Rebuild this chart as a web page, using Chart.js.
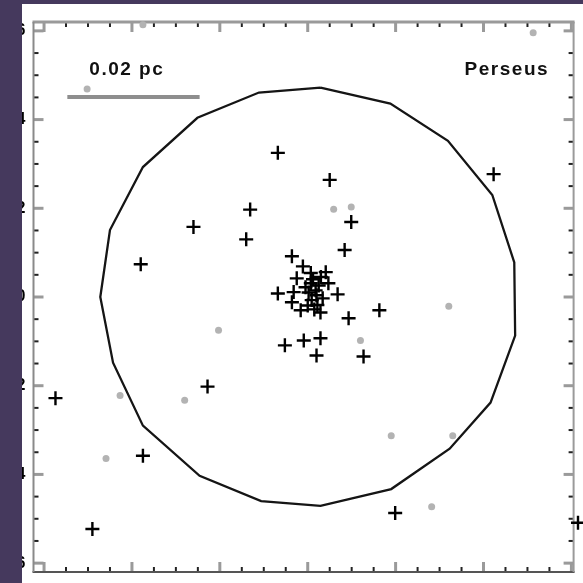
<!DOCTYPE html>
<html lang="en">
<head>
    <meta charset="UTF-8">
    <title>Perseus</title>
    <script src="https://cdn.jsdelivr.net/npm/chart.js"></script>
    <style>
        html, body { margin: 0; padding: 0; background: #ffffff; }
        body { width: 583px; height: 583px; position: relative; overflow: hidden; }
        #wrap { position: absolute; left: 0; top: 0; width: 583px; height: 583px; }
        #chart { display: block; }
        .band { position: absolute; background: #45395d; }
        #bandLeft { left: 0; top: 0; width: 22px; height: 583px; }
        #bandTop { left: 0; top: 0; width: 583px; height: 4px; }
    </style>
</head>
<body>
    <div id="wrap"><canvas id="chart" width="583" height="583"></canvas></div>
    <div class="band" id="bandLeft"></div>
    <div class="band" id="bandTop"></div>

    <script>
        // axis ranges and ticks
        const xRange = [-6.24, 6.05];
        const yRange = [-6.2, 6.2];
        const majorTicks = [-6, -4, -2, 0, 2, 4, 6];

        // sources (black crosses)
        const crossX = [-0.68, 0.50, -1.31, 0.99, -2.60, -1.40, 0.84, -3.80, -0.36, 4.23,
                        -2.28, -5.74, -3.75, -4.90, 1.99, 6.15, 1.63, 0.93, 1.27, 0.68,
                        -0.52, -0.09, 0.29, 0.20, -0.68, -0.11, 0.41, -0.25, 0.07, 0.47,
                        -0.32, -0.36, -0.16, 0.29, 0.18, 0.09, 0.25, 0.07, 0.20, 0.00,
                        0.34, -0.05, 0.12, 0.22, 0.02, 0.15, 0.30];
        const crossY = [3.25, 2.64, 1.97, 1.69, 1.58, 1.30, 1.06, 0.74, 0.92, 2.77,
                        -2.02, -2.28, -3.58, -5.23, -4.87, -5.09, -0.30, -0.48, -1.34, 0.06,
                        -1.09, -0.98, -0.93, -1.32, 0.08, 0.69, 0.56, 0.42, 0.54, 0.31,
                        0.11, -0.12, -0.30, -0.35, 0.15, -0.07, 0.26, 0.31, 0.04, -0.19,
                        -0.03, 0.22, 0.40, -0.18, 0.10, -0.28, 0.45];

        // faint grey sources
        const dotX = [-3.75, 5.13, -5.02, 0.59, 0.99, -2.03, 3.21, 1.20, -4.27, -2.80, -4.59, 1.90, 3.30, 2.82];
        const dotY = [6.14, 5.96, 4.69, 1.98, 2.03, -0.75, -0.21, -0.98, -2.22, -2.33, -3.64, -3.13, -3.13, -4.73];

        // outline polygon (closed)
        const ringX = [0.29, 1.88, 3.19, 4.20, 4.70, 4.72, 4.16, 3.23, 1.90, 0.29,
                       -1.06, -2.46, -3.75, -4.43, -4.72, -4.50, -3.75, -2.51, -1.11, 0.29];
        const ringY = [4.72, 4.36, 3.52, 2.30, 0.78, -0.87, -2.38, -3.42, -4.33, -4.71,
                       -4.60, -4.03, -2.90, -1.48, 0.00, 1.51, 2.93, 4.04, 4.61, 4.72];

        // scale bar
        const barX = [-5.47, -2.46];
        const barY = [4.51, 4.51];

        // text labels
        const notes = [
            { text: '0.02 pc', x: -4.97, y: 5.12 },
            { text: 'Perseus', x: 3.57, y: 5.12 }
        ];

        const pts = (xs, ys) => xs.map((x, i) => ({ x: x, y: ys[i] }));

        const frame = {
            id: 'frame',
            beforeDatasetsDraw(chart) {
                const { ctx, chartArea: a, scales } = chart;
                const sx = scales.x, sy = scales.y;
                ctx.save();
                ctx.lineCap = 'butt';
                const line = (x1, y1, x2, y2, color, w) => {
                    ctx.strokeStyle = color;
                    ctx.lineWidth = w;
                    ctx.beginPath();
                    ctx.moveTo(x1, y1);
                    ctx.lineTo(x2, y2);
                    ctx.stroke();
                };
                // minor ticks
                for (let v = -6; v <= 6.01; v += 0.5) {
                    if (majorTicks.includes(v)) continue;
                    const px = sx.getPixelForValue(v);
                    const py = sy.getPixelForValue(v);
                    line(px, a.top, px, a.top + 5, '#222', 2);
                    line(px, a.bottom, px, a.bottom - 5, '#222', 2);
                    line(a.left, py, a.left + 5, py, '#222', 2);
                    line(a.right, py, a.right - 5, py, '#222', 2);
                }
                // major ticks
                majorTicks.forEach(v => {
                    const px = sx.getPixelForValue(v);
                    const py = sy.getPixelForValue(v);
                    line(px, a.top, px, a.top + 10, '#9a9a9a', 3);
                    line(px, a.bottom, px, a.bottom - 10, '#9a9a9a', 3);
                    line(a.left, py, a.left + 10, py, '#9a9a9a', 3);
                    line(a.right, py, a.right - 10, py, '#9a9a9a', 3);
                });
                // frame
                line(a.left - 1, a.top, a.right + 1, a.top, '#9a9a9a', 3);
                line(a.left - 1, a.bottom, a.right + 1, a.bottom, '#555', 2);
                line(a.left, a.top, a.left, a.bottom, '#8a8a8a', 2);
                line(a.right, a.top, a.right, a.bottom, '#9a9a9a', 2);
                ctx.restore();
            },
            afterDatasetsDraw(chart) {
                const { ctx, scales } = chart;
                ctx.save();
                ctx.fillStyle = '#111';
                ctx.font = 'bold 19px "Liberation Sans", Arial, sans-serif';
                ctx.letterSpacing = '1.5px';
                ctx.textBaseline = 'middle';
                ctx.textAlign = 'left';
                notes.forEach(n => {
                    ctx.fillText(n.text, scales.x.getPixelForValue(n.x), scales.y.getPixelForValue(n.y));
                });
                ctx.restore();
            }
        };

        new Chart(document.getElementById('chart'), {
            type: 'scatter',
            data: {
                datasets: [
                    {
                        data: pts(ringX, ringY),
                        showLine: true,
                        borderColor: '#151515',
                        borderWidth: 2.3,
                        pointRadius: 0,
                        fill: false,
                        tension: 0
                    },
                    {
                        data: pts(barX, barY),
                        showLine: true,
                        borderColor: '#8e8e8e',
                        borderWidth: 4,
                        pointRadius: 0,
                        fill: false
                    },
                    {
                        data: pts(dotX, dotY),
                        pointStyle: 'circle',
                        pointRadius: 3.5,
                        backgroundColor: '#b3b3b3',
                        borderWidth: 0,
                        clip: false
                    },
                    {
                        data: pts(crossX, crossY),
                        pointStyle: 'cross',
                        pointRadius: 7,
                        borderColor: '#000',
                        borderWidth: 2.4,
                        clip: false
                    }
                ]
            },
            options: {
                responsive: false,
                animation: false,
                events: [],
                layout: { padding: { top: 22, right: 6, bottom: 11, left: 0 } },
                plugins: { legend: { display: false }, tooltip: { enabled: false } },
                scales: {
                    x: {
                        type: 'linear',
                        display: false,
                        min: xRange[0],
                        max: xRange[1]
                    },
                    y: {
                        type: 'linear',
                        min: yRange[0],
                        max: yRange[1],
                        grid: { display: false, drawTicks: false },
                        border: { display: false },
                        afterBuildTicks: s => { s.ticks = majorTicks.map(v => ({ value: v })); },
                        afterFit: s => { s.width = 33.5; s.paddingTop = 0; s.paddingBottom = 0; },
                        ticks: {
                            padding: 8,
                            color: '#000',
                            font: { family: '"Liberation Sans", Arial, sans-serif', size: 16, weight: 'bold' }
                        }
                    }
                }
            },
            plugins: [frame]
        });
    </script>
</body>
</html>
